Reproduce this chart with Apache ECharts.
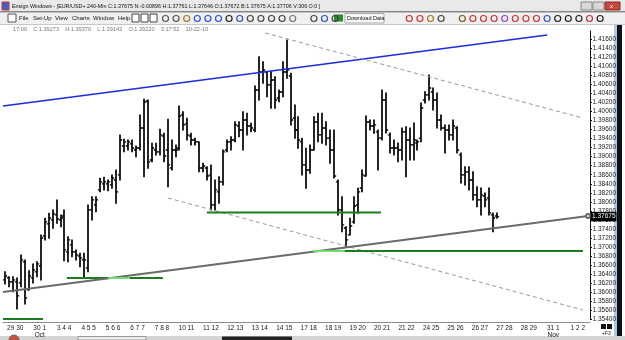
<!DOCTYPE html>
<html><head><meta charset="utf-8">
<script src="https://cdn.jsdelivr.net/npm/echarts@6/dist/echarts.min.js"></script>
<style>html,body{margin:0;padding:0;background:#fff;overflow:hidden}#c{width:625px;height:340px}</style>
</head><body><div id="c"></div>
<script>
// ---- data (EUR/USD 240-min OHLC bars) ----
const opens = [1.36274,1.36318,1.36230,1.36230,1.36208,1.36672,1.36053,1.36318,1.36451,1.36583,
1.37246,1.37512,1.37600,1.37711,1.37600,1.37688,1.36893,1.37048,1.36893,1.36804,
1.36716,1.36539,1.37821,1.37932,1.38263,1.38396,1.38396,1.38374,1.38484,1.38595,
1.39235,1.39235,1.39280,1.39147,1.39191,1.39633,1.40230,1.38926,1.39147,1.39103,
1.39456,1.39147,1.38749,1.39147,1.39191,1.39921,1.39722,1.39456,1.39368,1.39324,
1.38749,1.38749,1.38595,1.37932,1.38219,1.38440,1.39147,1.39324,1.39368,1.39677,
1.39589,1.39810,1.39677,1.39589,1.40473,1.40871,1.40871,1.40584,1.40694,1.40296,
1.40429,1.40871,1.40782,1.39854,1.39589,1.39324,1.38816,1.38705,1.39147,1.39766,
1.39479,1.39633,1.39410,1.39147,1.38440,1.37821,1.37423,1.37269,1.37556,1.37932,
1.38307,1.38572,1.39766,1.39677,1.39545,1.39410,1.40252,1.39479,1.39191,1.39191,
1.39147,1.39545,1.39368,1.39258,1.39302,1.39410,1.40252,1.40363,1.40429,1.40252,
1.39810,1.39633,1.39589,1.39479,1.39633,1.39037,1.38595,1.38661,1.38484,1.38153,
1.38042,1.38130,1.38086,1.37711,1.37688];
const highs = [1.36457,1.36347,1.36347,1.36318,1.36827,1.36716,1.36480,1.36628,1.36678,1.37269,
1.37638,1.37748,1.37821,1.38042,1.37711,1.37821,1.37231,1.37158,1.36937,1.36864,
1.36864,1.37932,1.38115,1.38115,1.38522,1.38544,1.38484,1.38595,1.38705,1.39479,
1.39382,1.39368,1.39368,1.39235,1.39921,1.40268,1.40252,1.39295,1.39295,1.39604,
1.39516,1.39826,1.39368,1.39258,1.40119,1.39993,1.39848,1.39516,1.39404,1.39324,
1.38853,1.38778,1.38816,1.38484,1.38557,1.39147,1.39368,1.39441,1.39772,1.39772,
1.39993,1.39958,1.39737,1.40561,1.41209,1.41098,1.40877,1.40877,1.40767,1.40473,
1.41098,1.41578,1.40842,1.40142,1.39883,1.39404,1.39185,1.39258,1.39883,1.39958,
1.39958,1.39772,1.39589,1.39589,1.38484,1.38115,1.37452,1.37638,1.38115,1.38301,
1.38705,1.39898,1.39810,1.39810,1.39589,1.40473,1.40407,1.39523,1.39368,1.39302,
1.39633,1.39662,1.39633,1.39744,1.39368,1.40186,1.40435,1.40805,1.40517,1.40407,
1.39921,1.39700,1.39700,1.39810,1.39662,1.39081,1.38778,1.38778,1.38667,1.38336,
1.38307,1.38197,1.38307,1.37755,1.37755];
const lows = [1.36186,1.36126,1.36015,1.35633,1.36126,1.35744,1.36053,1.36208,1.36347,1.36274,
1.37158,1.37196,1.37417,1.37527,1.37452,1.36701,1.36678,1.36789,1.36716,1.36568,
1.36347,1.36457,1.37600,1.37783,1.38225,1.38263,1.38248,1.38301,1.37969,1.38484,
1.39109,1.39147,1.39109,1.38999,1.39147,1.38557,1.38743,1.38888,1.39037,1.39037,
1.38888,1.38336,1.38705,1.38999,1.39147,1.39589,1.39368,1.39258,1.39258,1.38667,
1.38667,1.38484,1.37821,1.37821,1.37969,1.38374,1.39109,1.39147,1.39330,1.39441,
1.39147,1.39479,1.39551,1.39551,1.40252,1.40621,1.40325,1.40069,1.40069,1.40214,
1.40325,1.40732,1.39700,1.39404,1.39185,1.38595,1.38301,1.38632,1.39147,1.39330,
1.39295,1.39258,1.38853,1.38528,1.37711,1.37341,1.37010,1.37269,1.37527,1.37748,
1.38225,1.38572,1.39589,1.39516,1.38705,1.39368,1.39523,1.39081,1.39037,1.38888,
1.38926,1.38557,1.38926,1.38926,1.39147,1.39330,1.40186,1.40252,1.40031,1.39633,
1.39589,1.39081,1.39368,1.39368,1.39081,1.38418,1.38374,1.38263,1.38042,1.37894,
1.37711,1.37894,1.37711,1.37341,1.37638];
const closes = [1.36362,1.36230,1.36274,1.35920,1.36716,1.35876,1.36362,1.36495,1.36628,1.37202,
1.37556,1.37644,1.37733,1.37622,1.37644,1.36937,1.37158,1.36893,1.36827,1.36760,
1.36716,1.37821,1.38042,1.38042,1.38440,1.38440,1.38440,1.38528,1.38219,1.39368,
1.39324,1.39324,1.39191,1.39191,1.39633,1.40208,1.38882,1.39191,1.39103,1.39479,
1.39014,1.38816,1.39147,1.39147,1.39898,1.39700,1.39479,1.39368,1.39324,1.38749,
1.38793,1.38572,1.37932,1.38263,1.38440,1.39103,1.39324,1.39368,1.39700,1.39589,
1.39810,1.39677,1.39633,1.40473,1.40871,1.40915,1.40584,1.40694,1.40252,1.40429,
1.40871,1.40915,1.39810,1.39589,1.39368,1.38816,1.38705,1.39147,1.39766,1.39479,
1.39633,1.39410,1.39147,1.38572,1.37821,1.37490,1.37158,1.37467,1.37909,1.38219,
1.38595,1.39766,1.39677,1.39700,1.39410,1.40252,1.39589,1.39191,1.39191,1.39147,
1.39545,1.39368,1.39258,1.39368,1.39324,1.40075,1.40363,1.40517,1.40252,1.39810,
1.39633,1.39589,1.39479,1.39677,1.39147,1.38595,1.38661,1.38484,1.38153,1.38042,
1.38153,1.38042,1.37755,1.37644,1.37675];

// date labels along the time axis (one per trading day)
const dayLabels = ["29 30","30 1\nOct","3 4 4","4 5 5","5 6 6","6 7 7","7 8 8","10 11","11 12","12 13",
"13 14","14 15","17 18","18 19","19 20","20 21","21 22","24 25","25 26","26 27","27 28","28 29","31 1\nNov","1 2 2"];

// price scale
const priceMin = 1.354, priceMax = 1.4178, priceStep = 0.002;
const barSlots = 148; // bar positions incl. empty future space

// drawn studies: [barIndex, price] end points
const blueLine   = [[-0.5, 1.40119], [136.7, 1.41689]];
const greyLine   = [[-0.5, 1.36009], [147.0, 1.37688]];
const dashUpper  = [[65.6, 1.41733], [145.7, 1.39854]];
const dashLower  = [[41.1, 1.38086], [145.7, 1.35611]];
const greenA = [[-0.5, 1.35410], [9.6, 1.35410]];
const greenB = [[15.6, 1.36318], [39.8, 1.36318]];
const greenC = [[50.9, 1.37766], [94.8, 1.37766]];
const greenD = [[77.7, 1.36915], [145.7, 1.36915]];
const greenBhi = [[26.0, 1.36318], [31.5, 1.36318]];
const greenDhi = [[77.7, 1.36915], [85.7, 1.36915]];

const titleText = "Ensign Windows - [EUR/USD+ 240-Min C:1.37675 N:-0.00896 H:1.37761 L:1.37646 O:1.37672 B:1.37675 A:1.37706 V:306 O:0 ]";
const infoText = "17:00    C:1.39273    H:1.39370    L:1.39143    O:1.39220    3:17:52    10-22-10";
const menuItems = [["File",19],["Set-Up",33],["View",55],["Charts",72],["Window",93],["Help",118]];

const FONT = "'Liberation Sans',Arial,sans-serif";
const ohlc = opens.map((o,i)=>[i,o,highs[i],lows[i],closes[i]]);

function renderOHLC(params, api){
  const i = api.value(0);
  const pH = api.coord([i, api.value(2)]);
  const yL = api.coord([i, api.value(3)])[1];
  const yO = api.coord([i, api.value(1)])[1];
  const yC = api.coord([i, api.value(4)])[1];
  const x = Math.round(pH[0]);
  return {type:'group', children:[
    {type:'line', shape:{x1:x,y1:pH[1]-0.5,x2:x,y2:yL+0.5}, style:{stroke:'#000', lineWidth:1.7}},
    {type:'line', shape:{x1:x-2.2,y1:yO,x2:x,y2:yO}, style:{stroke:'#000',lineWidth:1.3}},
    {type:'line', shape:{x1:x,y1:yC,x2:x+2.2,y2:yC}, style:{stroke:'#000',lineWidth:1.3}}
  ]};
}

function seg(data, color, width, type, z){
  return {type:'line', xAxisIndex:0, yAxisIndex:0, data:data, symbol:'none', silent:true,
    lineStyle:{color:color, width:width, type:type||'solid'}, z:z||3, animation:false};
}

const greySeries = seg(greyLine.map((p,k)=> k===1 ? {value:p, symbol:'emptyCircle', symbolSize:4} : {value:p}), '#6a6a6a', 2, 'solid', 4);
greySeries.showSymbol = true;
greySeries.itemStyle = {color:'#6a6a6a', borderColor:'#444', borderWidth:1};
greySeries.markLine = {silent:true, symbol:'none', animation:false, precision:5,
  lineStyle:{color:'rgba(0,0,0,0)', width:0},
  data:[{yAxis:closes[closes.length-1]}],
  label:{show:true, position:'end', distance:1, formatter:p=>Number(p.value).toFixed(5),
    backgroundColor:'#000', color:'#fff', fontSize:6.5, fontFamily:FONT, padding:[1.5,1,1,1]}};

const chart = echarts.init(document.getElementById('c'), null, {renderer:'canvas'});

const T = (text,x,y,size,color,extra)=>Object.assign({type:'text', x:x, y:y, silent:true,
  style:{text:text, fontSize:size, fontFamily:FONT, fill:color||'#111', verticalAlign:'middle'}}, extra||{});

const graphics = [
  // title bar
  {type:'rect', shape:{x:0,y:0,width:625,height:12}, style:{fill:'#e9e9e9'}, silent:true},
  {type:'rect', shape:{x:2,y:2,width:7,height:8}, style:{fill:'#3b63c4', stroke:'#c33', lineWidth:1}, silent:true},
  T(titleText, 12, 6.5, 5.4, '#111'),
  {type:'rect', shape:{x:581,y:2,width:11,height:8}, style:{fill:'#d9d9d9', stroke:'#8a8a8a'}, silent:true},
  {type:'rect', shape:{x:593,y:2,width:11,height:8}, style:{fill:'#d9d9d9', stroke:'#8a8a8a'}, silent:true},
  {type:'rect', shape:{x:605,y:2,width:15,height:8}, style:{fill:'#c8483e', stroke:'#8a2a22'}, silent:true},
  T('x', 610, 6, 6, '#fff'),
  {type:'rect', shape:{x:0,y:11.5,width:625,height:1}, style:{fill:'#222'}, silent:true},
  // toolbar
  {type:'rect', shape:{x:0,y:12.5,width:625,height:11.5}, style:{fill:'#f0f0f0'}, silent:true},
  {type:'rect', shape:{x:8,y:14,width:8,height:8}, style:{fill:'#fff', stroke:'#555'}, silent:true},
  {type:'rect', shape:{x:132,y:14,width:7,height:8}, style:{fill:'#fff', stroke:'#444'}, silent:true},
  {type:'rect', shape:{x:141,y:14,width:7,height:8}, style:{fill:'#fff', stroke:'#444'}, silent:true},
  {type:'rect', shape:{x:150,y:14,width:7,height:8}, style:{fill:'#fff', stroke:'#444'}, silent:true},
  {type:'rect', shape:{x:345,y:13.5,width:39,height:9.5}, style:{fill:'#f7f7f7', stroke:'#aaa'}, silent:true},
  T('Download Data', 347, 18.5, 5.5, '#111'),
  {type:'rect', shape:{x:334,y:14.5,width:9,height:7}, style:{fill:'#2a8a2a'}, silent:true},
  {type:'rect', shape:{x:0,y:24,width:625,height:1}, style:{fill:'#c8c8c8'}, silent:true},
  // right frame
  {type:'rect', shape:{x:614,y:25,width:3,height:311}, style:{fill:'#a9cbe9'}, silent:true},
  {type:'rect', shape:{x:617,y:25,width:5,height:311}, style:{fill:'#111'}, silent:true},
  // bottom bar
  {type:'rect', shape:{x:0,y:336,width:625,height:4}, style:{fill:'#d4d4d4'}, silent:true},
  {type:'circle', shape:{cx:14,cy:340,r:5}, style:{fill:'#c9503f', stroke:'#666'}, silent:true},
  {type:'rect', shape:{x:78,y:336.5,width:68,height:3.5}, style:{fill:'#eee', stroke:'#999'}, silent:true},
  {type:'rect', shape:{x:222,y:336.5,width:70,height:3.5}, style:{fill:'#222'}, silent:true},
  {type:'rect', shape:{x:601,y:324,width:5,height:5}, style:{fill:'#111'}, silent:true},
  {type:'rect', shape:{x:607,y:324,width:5,height:5}, style:{fill:'#111'}, silent:true},
  T('+F3', 602, 334, 5, '#111'),
  T(infoText, 13, 29.5, 5.6, '#777')
];
menuItems.forEach(m=>graphics.push(T(m[0], m[1], 18.5, 6, '#111')));
// toolbar icon placeholders
const iconColors = ['#555','#555','#a07a20','#2c52c8','#2c52c8','#2c52c8','#222','#2c52c8','#444','#444','#444','#444','#777',
 null,'#444','#2c52c8','#444',null,null,null,null,null,null,'#c33','#c33','#a07a20','#444',null,
 '#7a5a20','#c33','#c33','#c33','#8a4ac8','#c33','#c33','#c33','#2c52c8','#222','#222','#222','#b33','#222'];
let ix = 162;
iconColors.forEach(c=>{
  if(c){ graphics.push({type:'circle', shape:{cx:ix+3.5,cy:18.5,r:3}, style:{fill:'none', stroke:c, lineWidth:1.2}, silent:true}); }
  ix += 10.6;
});

chart.setOption({
  animation:false,
  backgroundColor:'#fff',
  grid:{left:3, right:35, top:30.86, bottom:20.5, containLabel:false},
  xAxis:[
    {type:'value', min:-0.5, max:barSlots-0.5, show:false},
    {type:'category', data:dayLabels, boundaryGap:true, position:'bottom', offset:3,
     axisLine:{show:true, onZero:false, lineStyle:{color:'#8c8c8c', width:1.2}},
     axisTick:{show:false}, splitLine:{show:false},
     axisLabel:{interval:0, fontSize:6.5, lineHeight:7, fontFamily:FONT, color:'#222', margin:2.5}}
  ],
  yAxis:[{type:'value', position:'right', min:priceMin, max:priceMax, interval:priceStep,
    axisLine:{show:true, onZero:false, lineStyle:{color:'#111', width:1}},
    axisTick:{show:true, length:2, inside:false, lineStyle:{color:'#111'}},
    splitLine:{show:false},
    axisLabel:{fontSize:6.5, fontFamily:FONT, color:'#222', margin:2.5, showMaxLabel:false,
      formatter:v=>v.toFixed(5)}}],
  series:[
    {type:'custom', renderItem:renderOHLC, data:ohlc, xAxisIndex:0, yAxisIndex:0,
     encode:{x:0, y:[1,2,3,4]}, z:2, clip:true, silent:true},
    seg(blueLine, '#1a2be0', 1.5),
    seg(dashUpper, '#9a9a9a', 1, [4,3]),
    seg(dashLower, '#9a9a9a', 1, [4,3]),
    seg(greenA, '#1e7a1e', 2),
    seg(greenB, '#1e7a1e', 2),
    seg(greenC, '#1e7a1e', 2),
    seg(greenD, '#1e7a1e', 2),
    greySeries,
    seg(greenBhi, '#6fdc6f', 2, 'solid', 5),
    seg(greenDhi, '#6fdc6f', 2, 'solid', 5)
  ],
  graphic:graphics
});
</script>
</body></html>
